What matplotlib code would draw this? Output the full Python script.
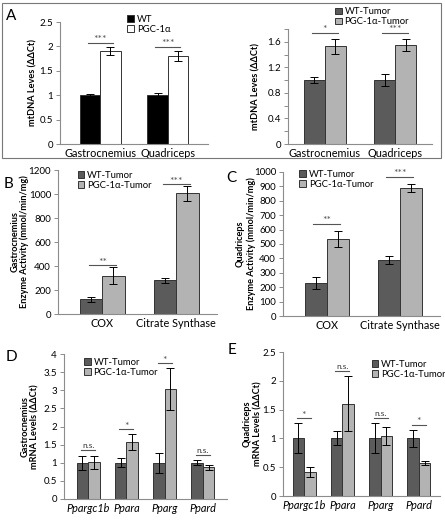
import numpy as np
import matplotlib
matplotlib.use('Agg')
import matplotlib.pyplot as plt
from matplotlib.patches import Rectangle

plt.rcParams['font.family'] = ['Lato', 'DejaVu Sans']

W, H = 445, 520

# ---- data ----
muscles = ['Gastrocnemius', 'Quadriceps']
a1_wt = [1.0, 1.0]
a1_wt_err = [0.03, 0.04]
a1_pgc = [1.91, 1.81]
a1_pgc_err = [0.08, 0.1]
a1_sig = ['***', '***']

a2_wt = [1.0, 1.0]
a2_wt_err = [0.05, 0.09]
a2_pgc = [1.53, 1.55]
a2_pgc_err = [0.12, 0.1]
a2_sig = ['*', '***']

enzymes = ['COX', 'Citrate Synthase']
b_wt = [122, 280]
b_wt_err = [22, 20]
b_pgc = [320, 1005]
b_pgc_err = [72, 62]
b_sig = ['**', '***']

c_wt = [228, 390]
c_wt_err = [42, 28]
c_pgc = [535, 888]
c_pgc_err = [57, 30]
c_sig = ['**', '***']

genes = ['Ppargc1b', 'Ppara', 'Pparg', 'Ppard']
d_wt = [1.0, 1.0, 1.0, 1.0]
d_wt_err = [0.2, 0.12, 0.27, 0.07]
d_pgc = [1.02, 1.57, 3.03, 0.87]
d_pgc_err = [0.18, 0.21, 0.58, 0.06]
d_sig = ['n.s.', '*', '*', 'n.s.']

e_wt = [1.0, 1.0, 1.0, 1.0]
e_wt_err = [0.26, 0.12, 0.26, 0.15]
e_pgc = [0.42, 1.6, 1.04, 0.57]
e_pgc_err = [0.09, 0.48, 0.16, 0.04]
e_sig = ['*', 'n.s.', 'n.s.', '*']

DARK = '#5b5b5b'
LIGHT = '#b3b3b3'
SPINE = '#8c8c8c'

fig = plt.figure(figsize=(W / 100, H / 100), dpi=100)


def px_axes(x0, y0, x1, y1):
    return fig.add_axes([x0 / W, 1 - y1 / H, (x1 - x0) / W, (y1 - y0) / H])


def panel(ax, cats, wt, wt_err, pgc, pgc_err, sig, ymax, step, labels, colors,
          xlim, ylabel, label_x, pad=0.035, italic=False, legend_loc=None,
          minor=None, fmt=None):
    x = np.arange(len(cats))
    w = 0.3
    ax.bar(x - w / 2, wt, w, color=colors[0], edgecolor='#333333', lw=0.7,
           label=labels[0])
    ax.bar(x + w / 2, pgc, w, color=colors[1], edgecolor='#333333', lw=0.7,
           label=labels[1])
    ax.errorbar(x - w / 2, wt, yerr=wt_err, fmt='none', ecolor='black',
                elinewidth=0.7, capsize=3, capthick=0.7)
    ax.errorbar(x + w / 2, pgc, yerr=pgc_err, fmt='none', ecolor='black',
                elinewidth=0.7, capsize=3, capthick=0.7)
    for i in range(len(cats)):
        top = max(wt[i] + wt_err[i], pgc[i] + pgc_err[i]) + pad * ymax
        ax.plot([x[i] - w * 0.62, x[i] + w * 0.62], [top, top],
                color='#555555', lw=0.8)
        if sig[i] == 'n.s.':
            ax.text(x[i], top + ymax * 0.008, sig[i], ha='center',
                    va='bottom', fontsize=6, color='#333333')
        else:
            ax.text(x[i], top - ymax * 0.012, sig[i], ha='center',
                    va='bottom', fontsize=7.5, color='#555555')
    ax.set_ylim(0, ymax)
    ax.set_xlim(*xlim)
    ticks = np.arange(0, ymax + step / 2, step)
    ax.set_yticks(ticks)
    if fmt:
        ax.set_yticklabels([fmt(v) for v in ticks])
    if minor:
        ax.set_yticks(np.arange(0, ymax + minor / 2, minor), minor=True)
    ax.set_xticks(x)
    ax.set_xticklabels(cats, fontsize=7.8, style='italic' if italic else 'normal')
    ax.tick_params(axis='x', length=0, pad=3)
    ax.tick_params(axis='y', which='both', length=3, width=0.7, color=SPINE,
                   labelsize=7, pad=2)
    for s in ['top', 'right']:
        ax.spines[s].set_visible(False)
    for s in ['left', 'bottom']:
        ax.spines[s].set_color(SPINE)
        ax.spines[s].set_linewidth(0.8)
    # y label lines drawn one by one (two-line labels)
    for line, lx in zip(ylabel.split('\n'), label_x):
        ax.text(lx, 0.5, line, transform=ax.transAxes, rotation=90,
                ha='center', va='center', fontsize=6.6, fontweight='bold')
    if legend_loc:
        ax.legend(loc='upper left', bbox_to_anchor=legend_loc, fontsize=6.8,
                  frameon=False, handlelength=0.7, handleheight=0.7,
                  handletextpad=0.3, borderaxespad=0, labelspacing=0.1)


def fmt_g(v):
    return f'{v:g}'


# panel A box
fig.add_artist(Rectangle((2 / W, 1 - 158 / H), 439 / W, 155 / H,
                         transform=fig.transFigure, fill=False,
                         edgecolor='#777777', lw=0.8))

ax = px_axes(60, 22, 208, 144)
panel(ax, muscles, a1_wt, a1_wt_err, a1_pgc, a1_pgc_err, a1_sig, 2.5, 0.5,
      ['WT', 'PGC-1α'], ['black', 'white'], (-0.6, 1.6),
      'mtDNA Leves (ΔΔCt)', [-0.18], pad=0.035, legend_loc=(0.43, 1.09),
      fmt=fmt_g)

ax = px_axes(288, 29, 432, 144)
panel(ax, muscles, a2_wt, a2_wt_err, a2_pgc, a2_pgc_err, a2_sig, 1.8, 0.4,
      ['WT-Tumor', 'PGC-1α-Tumor'], [DARK, LIGHT], (-0.52, 1.52),
      'mtDNA Leves (ΔΔCt)', [-0.22], pad=0.05, legend_loc=(0.3, 1.22),
      minor=0.2, fmt=lambda v: '0' if v == 0 else f'{v:.1f}')

ax = px_axes(58, 170, 217, 314)
panel(ax, enzymes, b_wt, b_wt_err, b_pgc, b_pgc_err, b_sig, 1200, 200,
      ['WT-Tumor', 'PGC-1α-Tumor'], [DARK, LIGHT], (-0.6, 1.55),
      'Gastrocnemius\nEnzyme Activity (mmol/min/mg)', [-0.27, -0.21],
      pad=0.012, legend_loc=(0.1, 1.02))

ax = px_axes(283, 172, 440, 316)
panel(ax, enzymes, c_wt, c_wt_err, c_pgc, c_pgc_err, c_sig, 1000, 100,
      ['WT-Tumor', 'PGC-1α-Tumor'], [DARK, LIGHT], (-0.6, 1.55),
      'Quadriceps\nEnzyme Activity (mmol/min/mg)', [-0.275, -0.205],
      pad=0.05, legend_loc=(0.08, 1.04))

ax = px_axes(64, 354, 227, 499)
panel(ax, genes, d_wt, d_wt_err, d_pgc, d_pgc_err, d_sig, 4, 0.5,
      ['WT-Tumor', 'PGC-1α-Tumor'], [DARK, LIGHT], (-0.63, 3.63),
      'Gastrocnemius\nmRNA Levels (ΔΔCt)', [-0.24, -0.178], italic=True,
      legend_loc=(0.1, 1.0), fmt=fmt_g)

ax = px_axes(283, 352, 440, 496)
panel(ax, genes, e_wt, e_wt_err, e_pgc, e_pgc_err, e_sig, 2.5, 0.5,
      ['WT-Tumor', 'PGC-1α-Tumor'], [DARK, LIGHT], (-0.55, 3.55),
      'Quadriceps\nmRNA Levels (ΔΔCt)', [-0.23, -0.16], italic=True,
      legend_loc=(0.54, 0.97), fmt=fmt_g)

for letter, (lx, ly) in {'A': (6, 16), 'B': (4, 184), 'C': (226, 178),
                         'D': (6, 357), 'E': (228, 350)}.items():
    fig.text(lx / W, 1 - ly / H, letter, fontsize=11, ha='left', va='center')

fig.savefig('out.png', dpi=100)
